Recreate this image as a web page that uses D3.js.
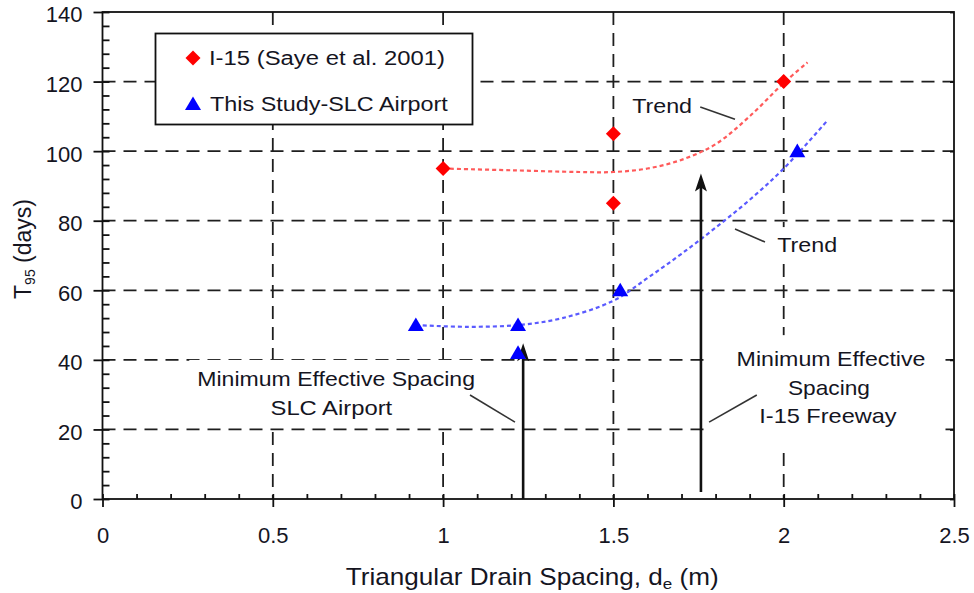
<!DOCTYPE html>
<html>
<head>
<meta charset="utf-8">
<script src="https://cdn.jsdelivr.net/npm/d3@7"></script>
<style>
  body { margin: 0; background: #fff; }
  svg text { font-family: "Liberation Sans", Arial, sans-serif; fill: #15151f; }
</style>
</head>
<body>
<svg id="chart" width="974" height="593"></svg>
<script>
// Measured T95 consolidation times versus triangular drain spacing
const i15Spacing = [1.0, 1.5, 1.5, 2.0];
const i15T95 = [95, 105, 85, 120];
const slcSpacing = [0.92, 1.22, 1.22, 1.52, 2.04];
const slcT95 = [50, 50, 42, 60, 100];

// Hand-fitted trend curves
const i15TrendSpacing = [1.0, 1.2, 1.4, 1.5, 1.6, 1.7, 1.8, 1.9, 2.0, 2.07];
const i15TrendT95 = [95, 94.5, 94, 94, 95, 97.5, 102, 110, 119.6, 125.5];
const slcTrendSpacing = [0.92, 1.07, 1.22, 1.35, 1.5, 1.6, 1.7, 1.8, 1.9, 2.0, 2.13];
const slcTrendT95 = [50, 49.5, 50, 52, 57, 63.5, 70.5, 78, 86, 95, 109];

// Minimum effective spacing arrows
const arrowSpacing = [1.235, 1.757];
const arrowFrom = [0, 2];
const arrowTo = [44.8, 93.6];

// Axis ticks
const xTicks = [0, 0.5, 1, 1.5, 2, 2.5];
const xMinor = d3.range(0, 2.5001, 0.1);
const yTicks = [0, 20, 40, 60, 80, 100, 120, 140];
const yMinor = d3.range(0, 140.001, 4);

const svg = d3.select("#chart");
const plotLeft = 102.5, plotRight = 954, plotTop = 12, plotBottom = 499;
const x = d3.scaleLinear().domain([0, 2.5]).range([plotLeft, plotRight]);
const y = d3.scaleLinear().domain([0, 140]).range([plotBottom, plotTop]);

// Stretch a text element horizontally so it spans the given width
function fitWidth(sel, width) {
  const node = sel.node();
  const bb = node.getBBox();
  const anchor = sel.attr("text-anchor") || "start";
  const ax = anchor === "middle" ? bb.x + bb.width / 2 : anchor === "end" ? bb.x + bb.width : bb.x;
  const s = width / bb.width;
  const prev = sel.attr("transform") || "";
  sel.attr("transform", `translate(${ax},0) scale(${s},1) translate(${-ax},0) ${prev}`);
}

// Dashed grid
const grid = svg.append("g").attr("stroke", "#1e1e1e").attr("stroke-width", 1.8)
  .attr("stroke-dasharray", "13,8");
grid.selectAll("line.v").data(xTicks.slice(1, -1)).join("line").attr("class", "v")
  .attr("x1", d => x(d)).attr("x2", d => x(d)).attr("y1", plotTop).attr("y2", plotBottom);
grid.selectAll("line.h").data(yTicks.slice(1, -1)).join("line").attr("class", "h")
  .attr("y1", d => y(d)).attr("y2", d => y(d)).attr("x1", plotLeft).attr("x2", plotRight);

// White label backgrounds sit above the grid
const labelBg = svg.append("g");

// Frame
svg.append("rect").attr("x", plotLeft).attr("y", plotTop)
  .attr("width", plotRight - plotLeft).attr("height", plotBottom - plotTop)
  .attr("fill", "none").attr("stroke", "#111").attr("stroke-width", 1.8);

// Axes
const axStyle = g => {
  g.select(".domain").remove();
  g.selectAll("line").attr("stroke", "#111").attr("stroke-width", 1.8);
};
const tickText = g => g.selectAll("text").attr("font-size", 22).attr("fill", "#15151f")
  .attr("font-family", "Liberation Sans, Arial, sans-serif");
svg.append("g").attr("transform", `translate(0,${plotBottom})`)
  .call(d3.axisBottom(x).tickValues(xMinor).tickSize(-5).tickFormat("")).call(axStyle);
svg.append("g").attr("transform", `translate(0,${plotBottom})`)
  .call(d3.axisBottom(x).tickValues(xTicks).tickSize(8).tickPadding(20).tickFormat(d3.format("")))
  .call(axStyle).call(tickText);
svg.append("g").attr("transform", `translate(${plotLeft},0)`)
  .call(d3.axisLeft(y).tickValues(yMinor).tickSize(-7).tickFormat("")).call(axStyle);
svg.append("g").attr("transform", `translate(${plotLeft},0)`)
  .call(d3.axisLeft(y).tickValues(yTicks).tickSize(9).tickPadding(11).tickFormat(d3.format("")))
  .call(axStyle).call(tickText)
  .call(g => g.selectAll("text").attr("dy", "0.45em"));
svg.append("g").attr("transform", `translate(${plotRight},0)`)
  .call(d3.axisRight(y).tickValues(yTicks).tickSize(-4).tickFormat("")).call(axStyle);

// Axis titles
const xt = svg.append("text").attr("x", (plotLeft + plotRight) / 2 + 4).attr("y", 585)
  .attr("text-anchor", "middle").attr("font-size", 23);
xt.append("tspan").text("Triangular Drain Spacing, d");
xt.append("tspan").attr("font-size", 15).attr("dy", 4).text("e");
xt.append("tspan").attr("dy", -4).text(" (m)");
fitWidth(xt, 373);

const yt = svg.append("text").attr("transform", "translate(31,249) rotate(-90)")
  .attr("text-anchor", "middle").attr("font-size", 23);
yt.append("tspan").text("T");
yt.append("tspan").attr("font-size", 14).attr("dy", 4).text("95");
yt.append("tspan").attr("dy", -4).text(" (days)");

// Trend curves
const line = d3.line().x(d => x(d[0])).y(d => y(d[1])).curve(d3.curveCatmullRom.alpha(0.5));
svg.append("path").attr("d", line(d3.zip(i15TrendSpacing, i15TrendT95)))
  .attr("fill", "none").attr("stroke", "#ff5a5a").attr("stroke-width", 2.2).attr("stroke-dasharray", "4,3");
svg.append("path").attr("d", line(d3.zip(slcTrendSpacing, slcTrendT95)))
  .attr("fill", "none").attr("stroke", "#5a5aff").attr("stroke-width", 2.2).attr("stroke-dasharray", "4,3");

// Marker shapes
const diamond = (cx, cy, r) => `M${cx},${cy - r}L${cx + r},${cy}L${cx},${cy + r}L${cx - r},${cy}Z`;
const triangle = (cx, cy, r) => `M${cx},${cy - r * 0.95}L${cx + r},${cy + r * 0.75}L${cx - r},${cy + r * 0.75}Z`;

// Arrows
const arrows = svg.append("g");
arrowSpacing.forEach((s, i) => {
  const ax = x(s), y0 = y(arrowFrom[i]), y1 = y(arrowTo[i]);
  arrows.append("line").attr("x1", ax).attr("x2", ax).attr("y1", y0).attr("y2", y1 + 10)
    .attr("stroke", "#111").attr("stroke-width", 2.6);
  arrows.append("path").attr("d", `M${ax},${y1}L${ax + 6},${y1 + 18}L${ax},${y1 + 14}L${ax - 6},${y1 + 18}Z`)
    .attr("fill", "#111");
});

svg.append("g").selectAll("path").data(d3.zip(i15Spacing, i15T95)).join("path")
  .attr("d", d => diamond(x(d[0]), y(d[1]), 7.5)).attr("fill", "#ff0000");
svg.append("g").selectAll("path").data(d3.zip(slcSpacing, slcT95)).join("path")
  .attr("d", d => triangle(x(d[0]), y(d[1]), 8)).attr("fill", "#0000ff");

// Annotation blocks: lines of [spacing, T95, text, anchor, width]; pad = [left, top, right, bottom]
const noteBlocks = [
  { lines: [[1.555, 111, "Trend", "start", 60]], pad: null },
  { lines: [[1.981, 71, "Trend", "start", 60]], pad: [6, 6, 6, 5] },
  { lines: [[0.686, 32.5, "Minimum Effective Spacing", "middle", 278],
            [0.672, 24.1, "SLC Airport", "middle", 122]], pad: [8, 7, 6, 6] },
  { lines: [[2.139, 38.2, "Minimum Effective", "middle", 189],
            [2.133, 29.9, "Spacing", "middle", 82],
            [2.130, 21.8, "I-15 Freeway", "middle", 138]], pad: [32, 12, 20, 24] }
];
noteBlocks.forEach(b => {
  const boxes = b.lines.map(n => {
    const t = svg.append("text").attr("x", x(n[0])).attr("y", y(n[1]))
      .attr("text-anchor", n[3]).attr("font-size", 21).text(n[2]);
    fitWidth(t, n[4]);
    return t.node().getBoundingClientRect();
  });
  if (!b.pad) return;
  const x0 = d3.min(boxes, r => r.left) - b.pad[0];
  const y0 = d3.min(boxes, r => r.top) - b.pad[1];
  const x1 = d3.max(boxes, r => r.right) + b.pad[2];
  const y1 = d3.max(boxes, r => r.bottom) + b.pad[3];
  labelBg.append("rect").attr("x", x0).attr("y", y0).attr("width", x1 - x0).attr("height", y1 - y0)
    .attr("fill", "#fff");
});

// Leader lines from labels: [s0, v0, s1, v1]
const leaders = [
  [1.755, 112.7, 1.857, 109.2],
  [1.857, 77.6, 1.945, 73.9],
  [1.079, 29.9, 1.211, 22.1],
  [1.921, 29.9, 1.781, 22.1]
];
svg.append("g").selectAll("line").data(leaders).join("line")
  .attr("x1", d => x(d[0])).attr("y1", d => y(d[1])).attr("x2", d => x(d[2])).attr("y2", d => y(d[3]))
  .attr("stroke", "#333").attr("stroke-width", 1.6);

// Legend
const lg = svg.append("g");
lg.append("rect").attr("x", 155.5).attr("y", 33.5).attr("width", 317).attr("height", 91)
  .attr("fill", "#fff").attr("stroke", "#111").attr("stroke-width", 1.8);
lg.append("path").attr("d", diamond(193, 58, 7.5)).attr("fill", "#ff0000");
lg.append("path").attr("d", triangle(193, 104, 8)).attr("fill", "#0000ff");
const l1 = lg.append("text").attr("x", 209).attr("y", 65).attr("font-size", 21).text("I-15 (Saye et al. 2001)");
fitWidth(l1, 236);
const l2 = lg.append("text").attr("x", 210).attr("y", 111).attr("font-size", 21).text("This Study-SLC Airport");
fitWidth(l2, 238);
</script>
</body>
</html>
